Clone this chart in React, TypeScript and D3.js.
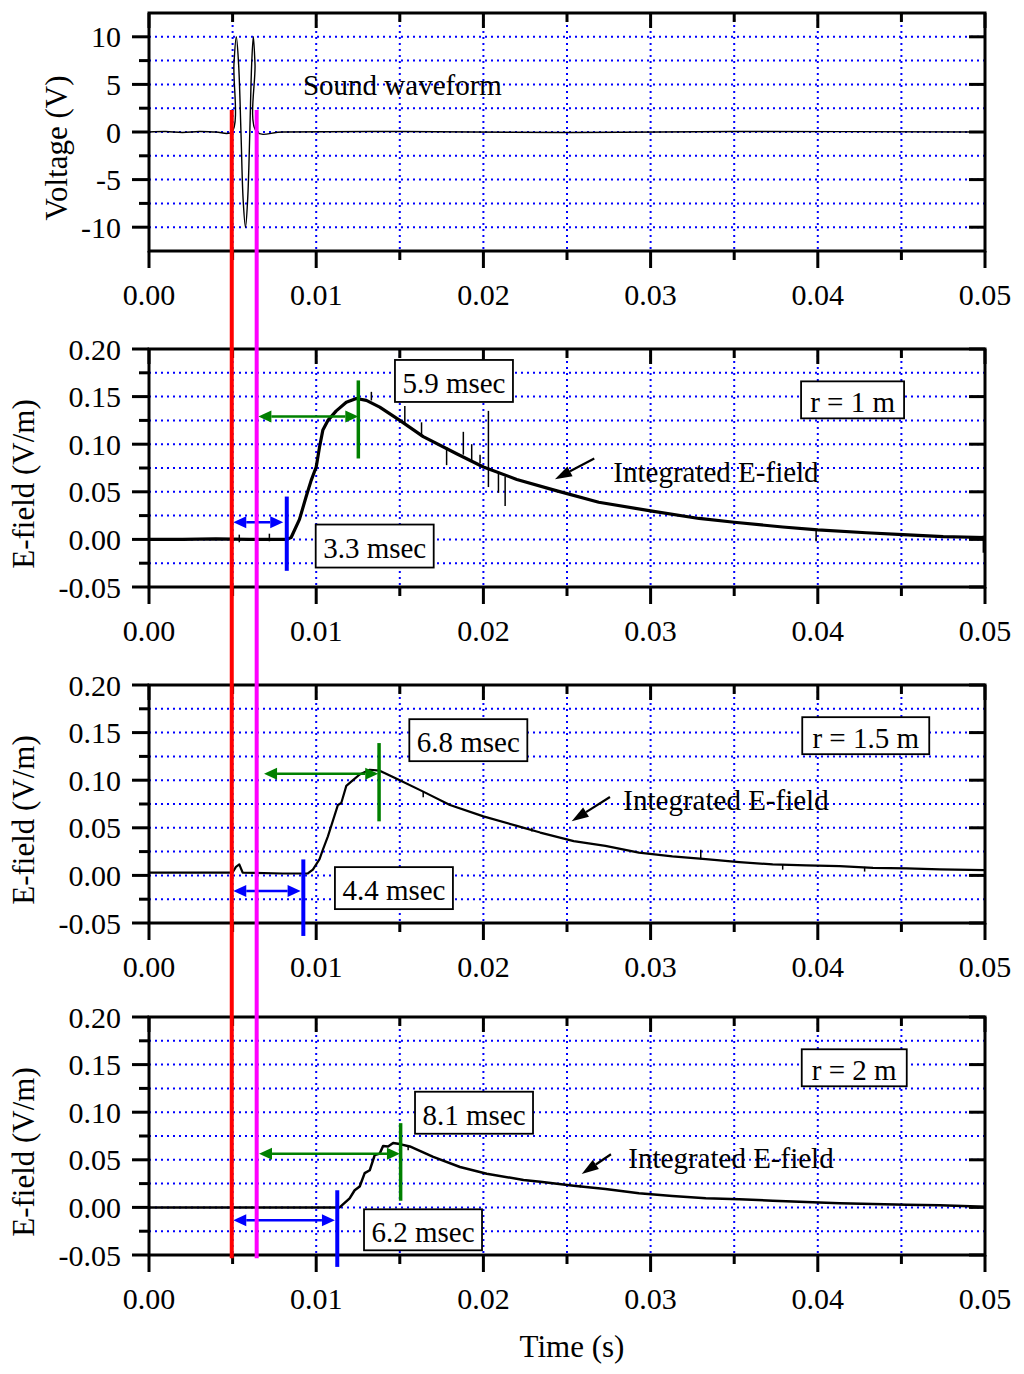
import React from 'react';
import * as d3 from 'd3';

// ---- axis ticks ----
const timeMajor = [0, 0.01, 0.02, 0.03, 0.04, 0.05];
const timeMinor = [0.005, 0.015, 0.025, 0.035, 0.045];
const timeLabels = ['0.00', '0.01', '0.02', '0.03', '0.04', '0.05'];

const voltMajor = [-10, -5, 0, 5, 10];
const voltMinor = [-7.5, -2.5, 2.5, 7.5];
const voltLabels = ['-10', '-5', '0', '5', '10'];

const fieldMajor = [-0.05, 0, 0.05, 0.1, 0.15, 0.2];
const fieldMinor = [-0.025, 0.025, 0.075, 0.125, 0.175];
const fieldLabels = ['-0.05', '0.00', '0.05', '0.10', '0.15', '0.20'];

// ---- series: [time (s), value] ----
const soundWave = [
  [0, 0], [0.001, 0.05], [0.002, -0.05], [0.003, 0.05], [0.004, 0], [0.00495, 0],
  [0.00508, 7.1], [0.00522, 10], [0.00536, 7.1], [0.0055, 0], [0.00563, -7.1], [0.00577, -10],
  [0.0059, -7.1], [0.00603, 0], [0.00614, 7.1], [0.00624, 10], [0.00634, 7.1], [0.00645, 0],
  [0.008, 0], [0.015, 0.05], [0.025, -0.05], [0.035, 0.05], [0.05, 0],
];

const efield1m = [
  [0, 0], [0.002, 0], [0.004, 0.0005], [0.006, 0], [0.0082, 0], [0.0085, 0.002], [0.009, 0.021],
  [0.0094, 0.045], [0.0097, 0.062], [0.01, 0.076], [0.0102, 0.097], [0.0104, 0.115], [0.0107, 0.125],
  [0.0112, 0.135], [0.0118, 0.144], [0.0124, 0.148], [0.013, 0.146], [0.0138, 0.139], [0.015, 0.125],
  [0.0164, 0.108], [0.0184, 0.09], [0.02, 0.076], [0.022, 0.063], [0.0244, 0.051], [0.0269, 0.039],
  [0.03, 0.03], [0.0329, 0.022], [0.035, 0.018], [0.0379, 0.013], [0.04, 0.01], [0.0429, 0.007],
  [0.0451, 0.005], [0.0475, 0.003], [0.05, 0.002],
];

const efield15m = [
  [0, 0.003], [0.005, 0.003], [0.0052, 0.009], [0.0054, 0.0115], [0.0056, 0.003], [0.008, 0.002],
  [0.0095, 0.002], [0.0098, 0.006], [0.0102, 0.017], [0.0104, 0.027], [0.0107, 0.041], [0.0109, 0.052],
  [0.0113, 0.074], [0.0115, 0.076], [0.0118, 0.094], [0.0122, 0.1], [0.0126, 0.106], [0.0132, 0.111],
  [0.0138, 0.11], [0.015, 0.1], [0.0164, 0.088], [0.018, 0.074], [0.02, 0.062], [0.022, 0.052],
  [0.0234, 0.045], [0.0254, 0.036], [0.0273, 0.031], [0.0293, 0.024], [0.0313, 0.02], [0.0333, 0.017],
  [0.0353, 0.014], [0.0373, 0.0115], [0.0393, 0.0105], [0.0413, 0.0098], [0.0433, 0.008],
  [0.0453, 0.0073], [0.0473, 0.0063], [0.05, 0.0056],
];

const efield2m = [
  [0, 0], [0.0114, 0], [0.012, 0.0095], [0.0123, 0.018], [0.0126, 0.022], [0.0129, 0.036],
  [0.0132, 0.039], [0.0135, 0.055], [0.0138, 0.0565], [0.014, 0.0645], [0.0143, 0.064], [0.0146, 0.0676],
  [0.015, 0.0665], [0.0156, 0.064], [0.017, 0.053], [0.0186, 0.0424], [0.0202, 0.0354], [0.0224, 0.0288],
  [0.0234, 0.027], [0.0254, 0.0228], [0.0273, 0.0193], [0.0293, 0.0148], [0.0313, 0.012], [0.0333, 0.0096],
  [0.0353, 0.0085], [0.0373, 0.007], [0.0393, 0.0057], [0.0413, 0.0043], [0.0433, 0.0036],
  [0.0453, 0.0028], [0.0473, 0.0022], [0.05, 0.0007],
];

// noise spikes: [time, low, high]
const spikes1m = [
  [0.0054, -0.003, 0.005], [0.0072, -0.002, 0.006], [0.0133, 0.146, 0.155], [0.0153, 0.122, 0.14],
  [0.0163, 0.108, 0.123], [0.0178, 0.078, 0.097], [0.0188, 0.089, 0.113], [0.0193, 0.083, 0.1],
  [0.0198, 0.08, 0.089], [0.0203, 0.055, 0.135], [0.0209, 0.049, 0.071], [0.0213, 0.035, 0.066],
  [0.0399, -0.002, 0.01], [0.0499, -0.014, 0.004],
];
const spikes15m = [
  [0.0164, 0.082, 0.088], [0.0229, 0.046, 0.05], [0.033, 0.017, 0.027], [0.0379, 0.006, 0.012],
  [0.0428, 0.004, 0.009],
];
const spikes2m = [[0.0155, 0.06, 0.064], [0.0258, 0.021, 0.024]];

// ---- annotation values ----
const redTime = 0.00495;
const magentaTime = 0.00644;
const delayLabels = ['3.3 msec', '4.4 msec', '6.2 msec'];
const peakLabels = ['5.9 msec', '6.8 msec', '8.1 msec'];
const distanceLabels = ['r = 1 m', 'r = 1.5 m', 'r = 2 m'];
const onsetTimes = [0.00824, 0.00923, 0.01126];
const peakTimes = [0.01252, 0.01376, 0.01505];

// ---- layout ----
const W = 1024;
const H = 1374;
const plotLeft = 149;
const plotRight = 985;
const panelH = 238;
const FONT = '"Liberation Serif", "Times New Roman", serif';
const BLUE = '#0000ff';
const GREEN = '#008000';

const x = d3.scaleLinear().domain([0, 0.05]).range([plotLeft, plotRight]);

const panels = [
  { top: 13, domain: [-12.5, 12.5], major: voltMajor, minor: voltMinor, labels: voltLabels, title: 'Voltage (V)', titleX: 67 },
  { top: 349, domain: [-0.05, 0.2], major: fieldMajor, minor: fieldMinor, labels: fieldLabels, title: 'E-field (V/m)', titleX: 34 },
  { top: 685, domain: [-0.05, 0.2], major: fieldMajor, minor: fieldMinor, labels: fieldLabels, title: 'E-field (V/m)', titleX: 34 },
  { top: 1017, domain: [-0.05, 0.2], major: fieldMajor, minor: fieldMinor, labels: fieldLabels, title: 'E-field (V/m)', titleX: 34 },
].map((p) => ({
  ...p,
  y: d3.scaleLinear().domain(p.domain).range([p.top + panelH, p.top]),
}));

// per E-field panel annotation placement (data coordinates)
const annot = [
  {
    series: efield1m, spikes: spikes1m, lw: 3.2,
    blue: { lo: -0.033, hi: 0.045, v: 0.018, from: 0.00504, to: 0.00803 },
    green: { lo: 0.085, hi: 0.167, v: 0.129, from: 0.00654, to: 0.01252 },
    peakBox: { t: 0.01471, v: 0.1885, w: 118, h: 42 },
    delayBox: { t: 0.00997, v: 0.0156, w: 118, h: 43 },
    rBox: { t: 0.039, v: 0.166, w: 103, h: 37 },
    note: { t: 0.02777, v: 0.0607 },
    arrow: { t1: 0.02663, v1: 0.085, t2: 0.02428, v2: 0.0632 },
  },
  {
    series: efield15m, spikes: spikes15m, lw: 2.2,
    blue: { lo: -0.0636, hi: 0.0168, v: -0.0164, from: 0.00504, to: 0.00907 },
    green: { lo: 0.0568, hi: 0.139, v: 0.1068, from: 0.00688, to: 0.01371 },
    peakBox: { t: 0.01557, v: 0.1641, w: 118, h: 42 },
    delayBox: { t: 0.01112, v: 0.0087, w: 118, h: 42 },
    rBox: { t: 0.03907, v: 0.1662, w: 127, h: 37 },
    note: { t: 0.02837, v: 0.0684 },
    arrow: { t1: 0.02757, v1: 0.0824, t2: 0.02528, v2: 0.0569 },
  },
  {
    series: efield2m, spikes: spikes2m, lw: 2.5,
    blue: { lo: -0.0625, hi: 0.018, v: -0.0134, from: 0.00504, to: 0.01112 },
    green: { lo: 0.007, hi: 0.0885, v: 0.0564, from: 0.00658, to: 0.01501 },
    peakBox: { t: 0.01591, v: 0.1215, w: 118, h: 42 },
    delayBox: { t: 0.01286, v: -0.002, w: 118, h: 41 },
    rBox: { t: 0.03904, v: 0.1661, w: 105, h: 37 },
    note: { t: 0.02867, v: 0.0411 },
    arrow: { t1: 0.02763, v1: 0.0558, t2: 0.02588, v2: 0.0351 },
  },
];

function head(x1: number, y1: number, x2: number, y2: number, len: number, half: number) {
  const dx = x2 - x1;
  const dy = y2 - y1;
  const L = Math.hypot(dx, dy);
  const ux = dx / L;
  const uy = dy / L;
  const bx = x2 - ux * len;
  const by = y2 - uy * len;
  return {
    pts: `${x2},${y2} ${bx - uy * half},${by + ux * half} ${bx + uy * half},${by - ux * half}`,
    bx, by,
  };
}

function DoubleArrow({ x1, x2, yy, color }: any) {
  const a = head(x2, yy, x1, yy, 13, 6);
  const b = head(x1, yy, x2, yy, 13, 6);
  return (
    <g>
      <line x1={a.bx} y1={yy} x2={b.bx} y2={yy} stroke={color} strokeWidth={2.5} />
      <polygon points={a.pts} fill={color} />
      <polygon points={b.pts} fill={color} />
    </g>
  );
}

function LabelBox({ px, py, w, h, text }: any) {
  return (
    <g>
      <rect x={px} y={py} width={w} height={h} fill="#fff" stroke="#000" strokeWidth={1.8} />
      <text x={px + w / 2} y={py + h / 2 + 12} textAnchor="middle" fontSize={29}>{text}</text>
    </g>
  );
}

export default function App() {
  const gridTimes = [...timeMajor, ...timeMinor].filter((t) => t > 0 && t < 0.05);

  return (
    <svg
      width={W}
      height={H}
      style={{ position: 'absolute', left: 0, top: 0, background: '#fff' }}
      fontFamily={FONT}
    >
      {panels.map((p, i) => {
        const y = p.y;
        const bottom = p.top + panelH;
        const gridVals = [...p.major, ...p.minor].filter((v) => v > p.domain[0] && v < p.domain[1]);
        return (
          <g key={i}>
            {/* grid */}
            {gridTimes.map((t) => (
              <line key={'gx' + t} x1={x(t)} x2={x(t)} y1={p.top} y2={bottom}
                stroke={BLUE} strokeWidth={2} strokeDasharray="2 4" />
            ))}
            {gridVals.map((v) => (
              <line key={'gy' + v} x1={plotLeft} x2={plotRight} y1={y(v)} y2={y(v)}
                stroke={BLUE} strokeWidth={2} strokeDasharray="2 4" />
            ))}

            {/* frame */}
            <rect x={plotLeft} y={p.top} width={plotRight - plotLeft} height={panelH}
              fill="none" stroke="#000" strokeWidth={3} />

            {/* left ticks (outward) */}
            {p.major.map((v) => (
              <line key={'lM' + v} x1={plotLeft - 17} x2={plotLeft} y1={y(v)} y2={y(v)} stroke="#000" strokeWidth={3} />
            ))}
            {p.minor.map((v) => (
              <line key={'lm' + v} x1={plotLeft - 10} x2={plotLeft} y1={y(v)} y2={y(v)} stroke="#000" strokeWidth={3} />
            ))}
            {/* right ticks (inward) */}
            {p.major.map((v) => (
              <line key={'rM' + v} x1={plotRight - 16} x2={plotRight} y1={y(v)} y2={y(v)} stroke="#000" strokeWidth={3} />
            ))}
            {/* bottom ticks (outward) */}
            {timeMajor.map((t) => (
              <line key={'bM' + t} x1={x(t)} x2={x(t)} y1={bottom} y2={bottom + 17} stroke="#000" strokeWidth={3} />
            ))}
            {timeMinor.map((t) => (
              <line key={'bm' + t} x1={x(t)} x2={x(t)} y1={bottom} y2={bottom + 9} stroke="#000" strokeWidth={3} />
            ))}
            {/* top ticks (inward) */}
            {timeMajor.map((t) => (
              <line key={'tM' + t} x1={x(t)} x2={x(t)} y1={p.top} y2={p.top + 15} stroke="#000" strokeWidth={3} />
            ))}
            {timeMinor.map((t) => (
              <line key={'tm' + t} x1={x(t)} x2={x(t)} y1={p.top} y2={p.top + 9} stroke="#000" strokeWidth={3} />
            ))}

            {/* tick labels */}
            {p.major.map((v, j) => (
              <text key={'yl' + v} x={121} y={y(v)} dy="0.35em" textAnchor="end" fontSize={30}>{p.labels[j]}</text>
            ))}
            {timeMajor.map((t, j) => (
              <text key={'xl' + t} x={x(t)} y={bottom + 54} textAnchor="middle" fontSize={30}>{timeLabels[j]}</text>
            ))}

            {/* y title */}
            <text transform={`translate(${p.titleX},${(p.top + bottom) / 2 + 16}) rotate(-90)`}
              textAnchor="middle" fontSize={31}>{p.title}</text>
          </g>
        );
      })}

      {/* sound waveform */}
      {(() => {
        const p = panels[0];
        const line = d3.line<number[]>().x((d) => x(d[0])).y((d) => p.y(d[1])).curve(d3.curveCatmullRom);
        return (
          <g>
            <path d={line(soundWave) || ''} fill="none" stroke="#000" strokeWidth={1.4} />
            <text x={x(0.00921)} y={p.y(3.9)} fontSize={29}>Sound waveform</text>
          </g>
        );
      })()}

      {/* E-field panels */}
      {annot.map((a, i) => {
        const p = panels[i + 1];
        const y = p.y;
        const line = d3.line<number[]>().x((d) => x(d[0])).y((d) => y(d[1]));
        const ar = head(x(a.arrow.t1), y(a.arrow.v1), x(a.arrow.t2), y(a.arrow.v2), 17, 5.5);
        return (
          <g key={'e' + i}>
            <path d={line(a.series) || ''} fill="none" stroke="#000" strokeWidth={a.lw} strokeLinejoin="round" />
            {a.spikes.map((s, j) => (
              <line key={j} x1={x(s[0])} x2={x(s[0])} y1={y(s[1])} y2={y(s[2])} stroke="#000" strokeWidth={1.5} />
            ))}

            {/* onset marker */}
            <line x1={x(onsetTimes[i])} x2={x(onsetTimes[i])} y1={y(a.blue.lo)} y2={y(a.blue.hi)} stroke={BLUE} strokeWidth={4} />
            <DoubleArrow x1={x(a.blue.from)} x2={x(a.blue.to)} yy={y(a.blue.v)} color={BLUE} />
            {/* peak marker */}
            <line x1={x(peakTimes[i])} x2={x(peakTimes[i])} y1={y(a.green.lo)} y2={y(a.green.hi)} stroke={GREEN} strokeWidth={3.5} />
            <DoubleArrow x1={x(a.green.from)} x2={x(a.green.to)} yy={y(a.green.v)} color={GREEN} />

            <LabelBox px={x(a.peakBox.t)} py={y(a.peakBox.v)} w={a.peakBox.w} h={a.peakBox.h} text={peakLabels[i]} />
            <LabelBox px={x(a.delayBox.t)} py={y(a.delayBox.v)} w={a.delayBox.w} h={a.delayBox.h} text={delayLabels[i]} />
            <LabelBox px={x(a.rBox.t)} py={y(a.rBox.v)} w={a.rBox.w} h={a.rBox.h} text={distanceLabels[i]} />

            <line x1={x(a.arrow.t1)} y1={y(a.arrow.v1)} x2={ar.bx} y2={ar.by} stroke="#000" strokeWidth={2.2} />
            <polygon points={ar.pts} fill="#000" />
            <text x={x(a.note.t)} y={y(a.note.v)} fontSize={29}>Integrated E-field</text>
          </g>
        );
      })}

      {/* excitation reference lines across all panels */}
      <line x1={x(redTime)} x2={x(redTime)} y1={panels[0].y(2.3)} y2={panels[3].y(-0.0535)} stroke="#ff0000" strokeWidth={4} />
      <line x1={x(magentaTime)} x2={x(magentaTime)} y1={panels[0].y(2.3)} y2={panels[3].y(-0.0535)} stroke="#ff00ff" strokeWidth={4} />

      <text x={572} y={1357} textAnchor="middle" fontSize={31}>Time (s)</text>
    </svg>
  );
}
